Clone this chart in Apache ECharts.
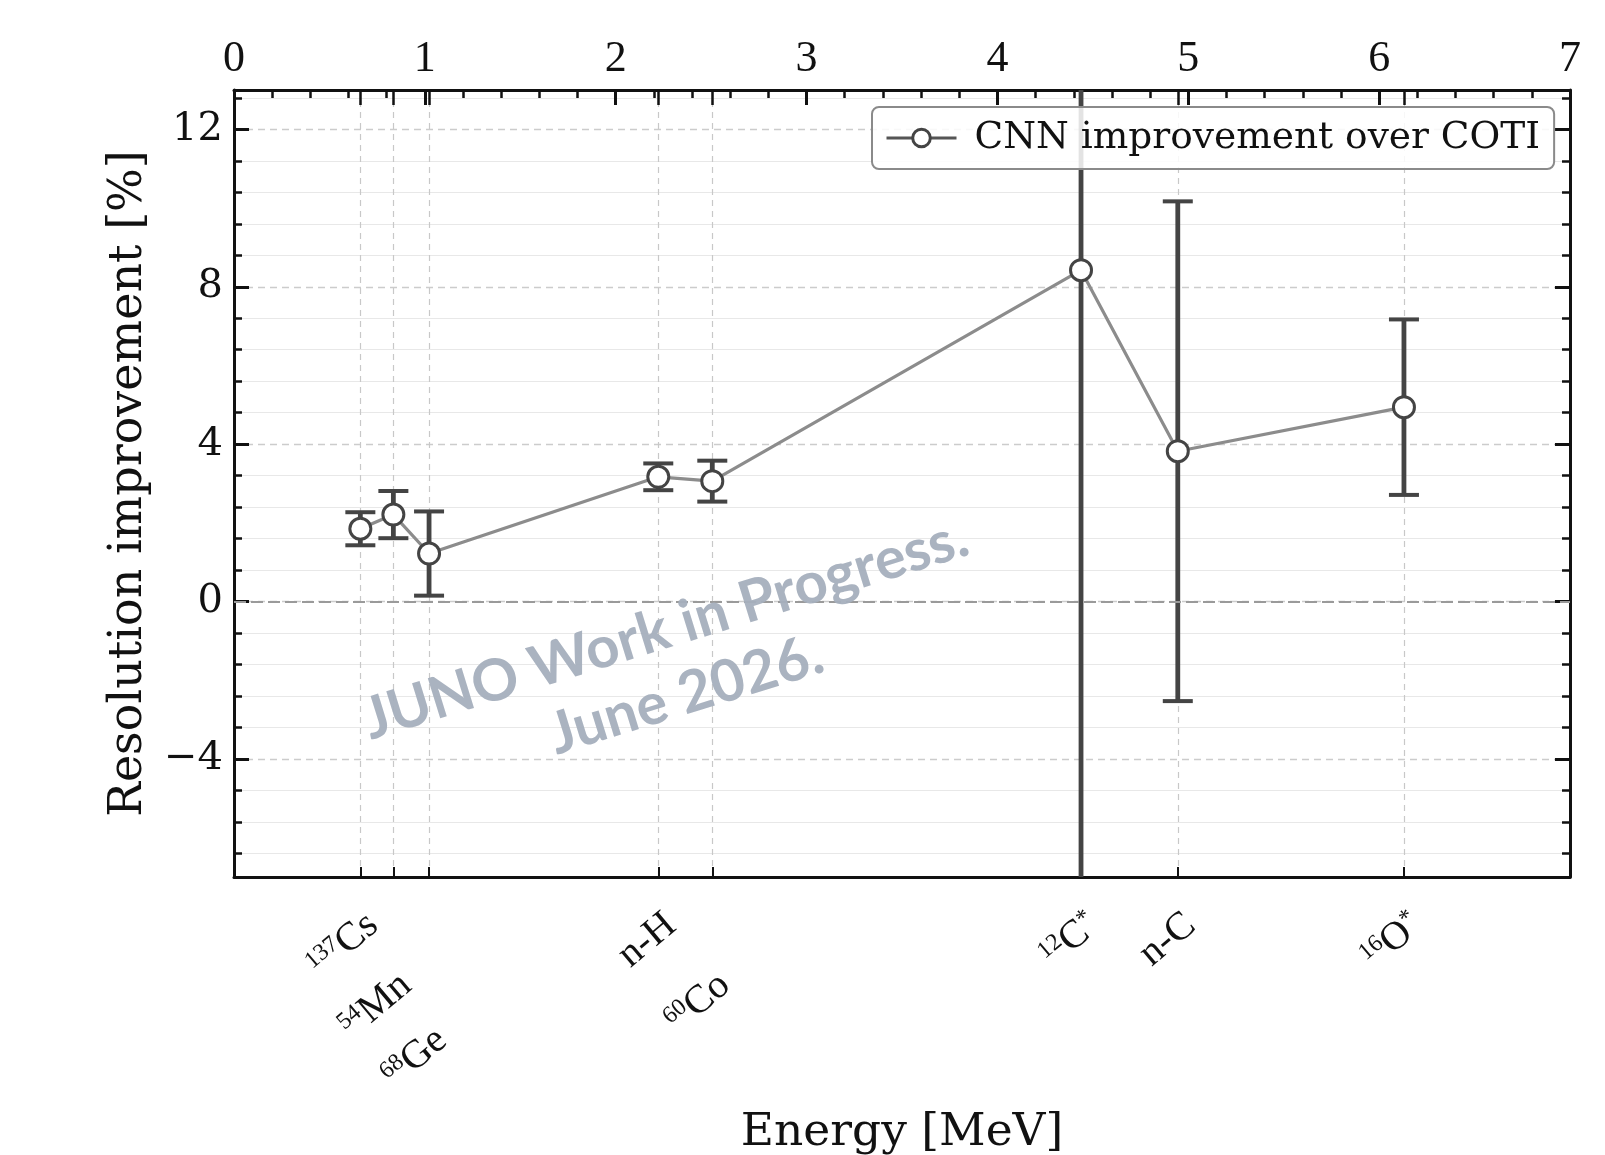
<!DOCTYPE html>
<html>
<head>
<meta charset="utf-8">
<script src="https://cdn.jsdelivr.net/npm/echarts@6/dist/echarts.min.js"></script>
<style>
html,body{margin:0;padding:0;background:#fff;}
#chart{width:1605px;height:1155px;}
</style>
</head>
<body>
<div id="chart"></div>
<script>
// ---- data ----
const energies    = [0.662, 0.835, 1.022, 2.223, 2.506, 4.438, 4.945, 6.13];
const improvement = [1.85, 2.21, 1.22, 3.17, 3.06, 8.42, 3.82, 4.94];
const errors      = [0.42, 0.60, 1.07, 0.34, 0.52, 30.0, 6.35, 2.23];
const labelSup    = ['137', '54', '68', '', '60', '12', '', '16'];
const labelMain   = ['Cs', 'Mn', 'Ge', 'n-H', 'Co', 'C', 'n-C', 'O'];
const labelPost   = ['', '', '', '', '', '*', '', '*'];
const labelLevel  = [0, 1, 2, 0, 1, 0, 0, 0];
const xMinorTicks = [0.2, 0.4, 0.6, 0.8, 1.2, 1.4, 1.6, 1.8, 2.2, 2.4, 2.6, 2.8,
                     3.2, 3.4, 3.6, 3.8, 4.2, 4.4, 4.6, 4.8, 5.2, 5.4, 5.6, 5.8,
                     6.2, 6.4, 6.6, 6.8];
const yMajorTicks = [-4, 0, 4, 8, 12];
const yMinorTicks = [-6.4, -5.6, -4.8, -3.2, -2.4, -1.6, -0.8, 0.8, 1.6, 2.4, 3.2,
                     4.8, 5.6, 6.4, 7.2, 8.8, 9.6, 10.4, 11.2, 12.8];
const seriesName  = 'CNN improvement over COTI';

const X_MIN = 0, X_MAX = 7, Y_MIN = -7, Y_MAX = 13;

const chart = echarts.init(document.getElementById('chart'), null, {renderer: 'canvas'});

function labelFor(v) {
  let best = 0, d = 1e9;
  energies.forEach((e, i) => { if (Math.abs(e - v) < d) { d = Math.abs(e - v); best = i; } });
  let s = '';
  if (labelSup[best]) s += '{sup|' + labelSup[best] + '}';
  s += '{b|' + labelMain[best] + '}';
  if (labelPost[best]) s += '{sup|' + labelPost[best] + '}';
  return s;
}

const richLabel = {
  b: {fontFamily: '"Liberation Serif", serif', fontSize: 40, color: '#111', lineHeight: 40, verticalAlign: 'bottom'},
  sup: {fontFamily: '"Liberation Serif", serif', fontSize: 24, color: '#111', lineHeight: 40, verticalAlign: 'top', padding: [0, 0, 14, 0]}
};

const levelMargins = [28, 88, 143];
const levelAxes = levelMargins.map((m, lv) => ({
  type: 'value', position: 'bottom', min: X_MIN, max: X_MAX, gridIndex: 0,
  axisLine: {show: false, onZero: false}, axisTick: {show: false}, splitLine: {show: false},
  axisLabel: {
    show: true, rotate: 40, margin: m, align: 'right', verticalAlign: 'top',
    customValues: energies.filter((e, i) => labelLevel[i] === lv),
    formatter: labelFor, rich: richLabel
  }
}));

const black = '#111';

const option = {
  backgroundColor: '#fff',
  animation: false,
  grid: {left: 234, right: 35, top: 90, bottom: 278, containLabel: false, outerBoundsMode: 'none'},
  legend: {
    show: true,
    data: [seriesName],
    left: 872, top: 107,
    orient: 'horizontal',
    itemWidth: 70, itemHeight: 22,
    padding: [12, 14, 12, 13],
    borderColor: '#8a8a8a', borderWidth: 2, borderRadius: 7,
    backgroundColor: 'rgba(255,255,255,0.85)',
    lineStyle: {color: '#555', width: 3},
    itemStyle: {color: '#fff', borderColor: '#444', borderWidth: 3},
    textStyle: {fontFamily: '"DejaVu Serif", serif', fontSize: 37.5, color: '#111', padding: [0, 0, 0, 13]}
  },
  xAxis: [
    { // main bottom axis (source ticks + vertical dashed lines)
      type: 'value', position: 'bottom', min: X_MIN, max: X_MAX,
      name: 'Energy [MeV]', nameLocation: 'middle', nameGap: 233,
      nameTextStyle: {fontFamily: '"DejaVu Serif", serif', fontSize: 45.5, color: '#111'},
      axisLine: {show: true, onZero: false, lineStyle: {color: black, width: 3}},
      axisTick: {show: true, inside: true, length: 10, customValues: energies, lineStyle: {color: black, width: 2}},
      axisLabel: {show: false},
      splitLine: {show: true, lineStyle: {color: '#c8c8c8', width: 1.2, type: [6, 5]}}
    },
    { // top axis with numbers
      type: 'value', position: 'top', min: X_MIN, max: X_MAX, interval: 1,
      axisLine: {show: true, onZero: false, lineStyle: {color: black, width: 3}},
      axisTick: {show: true, inside: true, length: 15, lineStyle: {color: black, width: 3}},
      axisLabel: {show: true, margin: 9, fontFamily: '"Liberation Serif", serif', fontSize: 44, color: '#111'},
      splitLine: {show: false}
    },
    { // top minor ticks
      type: 'value', position: 'top', min: X_MIN, max: X_MAX,
      axisLine: {show: false, onZero: false},
      axisTick: {show: true, inside: true, length: 8, customValues: xMinorTicks, lineStyle: {color: black, width: 2.5}},
      axisLabel: {show: false}, splitLine: {show: false}
    },
    { // top source ticks
      type: 'value', position: 'top', min: X_MIN, max: X_MAX,
      axisLine: {show: false, onZero: false},
      axisTick: {show: true, inside: true, length: 15, customValues: energies, lineStyle: {color: black, width: 2.5}},
      axisLabel: {show: false}, splitLine: {show: false}
    }
  ].concat(levelAxes),
  yAxis: [
    { // left major
      type: 'value', position: 'left', min: Y_MIN, max: Y_MAX,
      name: 'Resolution improvement [%]', nameLocation: 'middle', nameGap: 82, nameRotate: 90,
      nameTextStyle: {fontFamily: '"DejaVu Serif", serif', fontSize: 46, color: '#111'},
      axisLine: {show: true, onZero: false, lineStyle: {color: black, width: 3}},
      axisTick: {show: true, inside: true, length: 15, customValues: yMajorTicks, lineStyle: {color: black, width: 3}},
      axisLabel: {show: true, margin: 11, customValues: yMajorTicks,
                  fontFamily: '"DejaVu Serif", serif', fontSize: 40, color: '#111',
                  formatter: v => String(v).replace('-', '\u2212')},
      splitLine: {show: true, lineStyle: {color: '#cccccc', width: 1.4, type: [7, 5]}}
    },
    { // left minor
      type: 'value', position: 'left', min: Y_MIN, max: Y_MAX,
      axisLine: {show: false, onZero: false},
      axisTick: {show: true, inside: true, length: 8, customValues: yMinorTicks, lineStyle: {color: black, width: 2.5}},
      axisLabel: {show: false},
      splitLine: {show: true, lineStyle: {color: '#e8e8e8', width: 1.2, type: 'solid'}}
    },
    { // right major
      type: 'value', position: 'right', min: Y_MIN, max: Y_MAX,
      axisLine: {show: true, onZero: false, lineStyle: {color: black, width: 3}},
      axisTick: {show: true, inside: true, length: 15, customValues: yMajorTicks, lineStyle: {color: black, width: 3}},
      axisLabel: {show: false}, splitLine: {show: false}
    },
    { // right minor
      type: 'value', position: 'right', min: Y_MIN, max: Y_MAX,
      axisLine: {show: false, onZero: false},
      axisTick: {show: true, inside: true, length: 8, customValues: yMinorTicks, lineStyle: {color: black, width: 2.5}},
      axisLabel: {show: false}, splitLine: {show: false}
    }
  ],
  series: [
    {
      type: 'custom', name: 'errors', xAxisIndex: 0, yAxisIndex: 0, clip: true, z: 3, silent: true,
      data: energies.map((e, i) => [e, improvement[i], errors[i]]),
      encode: {x: 0, y: 1},
      renderItem: function (params, api) {
        const x = api.value(0), y = api.value(1), err = api.value(2);
        const top = api.coord([x, y + err]);
        const bot = api.coord([x, y - err]);
        const cap = 15;
        const st = {stroke: '#444', lineWidth: 4.8};
        return {type: 'group', children: [
          {type: 'line', shape: {x1: top[0], y1: top[1], x2: bot[0], y2: bot[1]}, style: st},
          {type: 'line', shape: {x1: top[0] - cap, y1: top[1], x2: top[0] + cap, y2: top[1]}, style: {stroke: '#444', lineWidth: 4}},
          {type: 'line', shape: {x1: bot[0] - cap, y1: bot[1], x2: bot[0] + cap, y2: bot[1]}, style: {stroke: '#444', lineWidth: 4}}
        ]};
      }
    },
    {
      type: 'line', name: seriesName, xAxisIndex: 0, yAxisIndex: 0, z: 5,
      data: energies.map((e, i) => [e, improvement[i]]),
      symbol: 'circle', symbolSize: 21, showAllSymbol: true,
      itemStyle: {color: '#ffffff', borderColor: '#444', borderWidth: 3},
      lineStyle: {color: '#8c8c8c', width: 3.2},
      markLine: {
        silent: true, symbol: 'none', label: {show: false},
        lineStyle: {color: '#9a9a9a', width: 2, type: [12, 5]},
        data: [{yAxis: 0}]
      }
    }
  ],
  graphic: [
    {
      type: 'text', x: 676, y: 662, rotation: 0.30, z: 100, silent: true,
      style: {
        text: 'JUNO Work in Progress.\nJune 2026.',
        font: 'bold 58px Lato, sans-serif',
        fill: 'rgba(165,175,189,0.95)',
        align: 'center', verticalAlign: 'middle', lineHeight: 69
      }
    }
  ]
};

chart.setOption(option);
</script>
</body>
</html>
